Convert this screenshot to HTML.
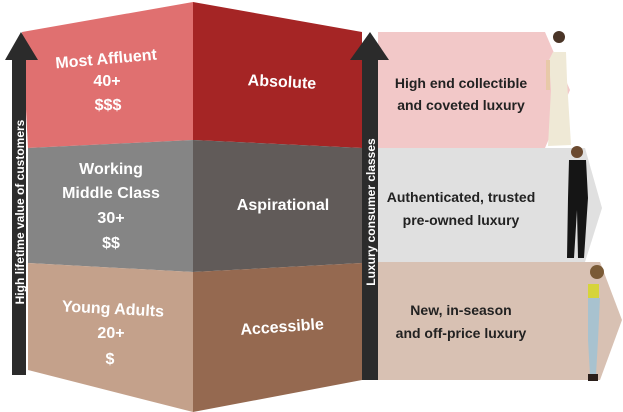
<!DOCTYPE html>
<html><head><meta charset="utf-8"><style>
html,body{margin:0;padding:0;background:#fff;}
svg{display:block;}
text{font-family:"Liberation Sans",sans-serif;font-weight:bold;}
</style></head><body>
<svg width="623" height="412" viewBox="0 0 623 412" xmlns="http://www.w3.org/2000/svg">
<!-- right panels -->
<polygon points="378,32 545,32 570,90 545,148 378,148" fill="#f2c8c8"/>
<polygon points="378,148 585,148 602,208 585,262 378,262" fill="#e0e0e0"/>
<polygon points="378,262 600,262 622,320 600,380 378,380" fill="#d8c1b3"/>
<!-- left face -->
<polygon points="22,32 193,2 193,140 28,148" fill="#e07070"/>
<polygon points="28,148 193,140 193,272 28,263" fill="#858585"/>
<polygon points="28,263 193,272 193,412 28,370" fill="#c4a18b"/>
<!-- right face -->
<polygon points="193,2 362,32 362,148 193,140" fill="#a52525"/>
<polygon points="193,140 362,148 362,263 193,272" fill="#615b59"/>
<polygon points="193,272 362,263 362,380 193,412" fill="#956950"/>
<!-- arrows -->
<polygon points="12,375 26,375 26,60 38,60 21,32 5,60 12,60" fill="#2b2b2b"/>
<polygon points="362,380 378,380 378,60 389,60 370,32 350,60 362,60" fill="#2b2b2b"/>
<text transform="translate(24,212) rotate(-90)" text-anchor="middle" font-size="12" fill="#fff">High lifetime value of customers</text>
<text transform="translate(375,212) rotate(-90)" text-anchor="middle" font-size="12" fill="#fff">Luxury consumer classes</text>
<!-- left face text -->
<g fill="#fff" font-size="16" text-anchor="middle">
<text x="106" y="64" transform="rotate(-5 106 58)">Most Affluent</text>
<text x="107" y="86">40+</text>
<text x="108" y="110">$$$</text>
<text x="111" y="174">Working</text>
<text x="111" y="198">Middle Class</text>
<text x="111" y="223">30+</text>
<text x="111" y="248">$$</text>
<text x="113" y="314" transform="rotate(3 113 308)">Young Adults</text>
<text x="111" y="338">20+</text>
<text x="110" y="364">$</text>
<text x="282" y="87" transform="rotate(3 282 82)">Absolute</text>
<text x="283" y="210">Aspirational</text>
<text x="282" y="332" transform="rotate(-4 282 326)">Accessible</text>
</g>
<!-- panel text -->
<g fill="#222" font-size="14" text-anchor="middle">
<text x="461" y="88">High end collectible</text>
<text x="461" y="110">and coveted luxury</text>
<text x="461" y="202">Authenticated, trusted</text>
<text x="461" y="225">pre-owned luxury</text>
<text x="461" y="315">New, in-season</text>
<text x="461" y="338">and off-price luxury</text>
</g>
<!-- figures -->
<g>
<circle cx="559" cy="37" r="6" fill="#4a3527"/>
<polygon points="553,52 566,52 567,80 571,145 548,146 551,90 549,60" fill="#efe9d6"/>
<rect x="546" y="60" width="4" height="30" fill="#e8c9a8"/>
<circle cx="577" cy="152" r="6" fill="#6b4a30"/>
<polygon points="569,160 586,160 588,198 584,258 578,258 577,210 574,258 567,258 568,198" fill="#151515"/>
<circle cx="597" cy="272" r="7" fill="#7a5a36"/>
<rect x="588" y="284" width="11" height="14" fill="#d6d43a"/>
<polygon points="588,298 600,298 598,340 596,375 590,375 588,340" fill="#a8c2cf"/>
<rect x="588" y="374" width="10" height="7" fill="#2a1e1a"/>
</g>
</svg>
</body></html>
